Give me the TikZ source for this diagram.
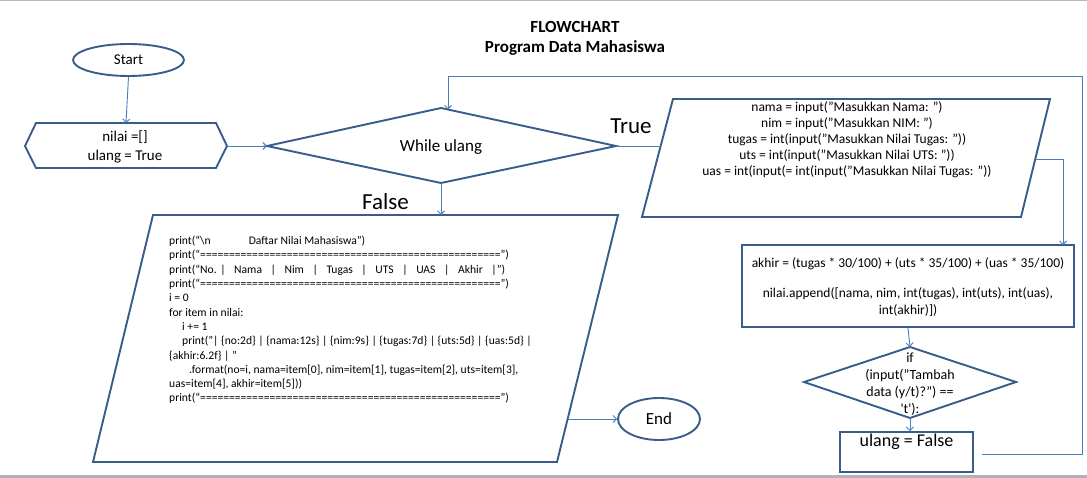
\documentclass[tikz,border=0pt]{standalone}
\usepackage{fontspec}
\setmainfont{Carlito}
\usetikzlibrary{shapes.geometric,arrows.meta}
\definecolor{shapeblue}{HTML}{385D8A}
\definecolor{connblue}{HTML}{4A7EBB}
\begin{document}
\begin{tikzpicture}[x=1pt,y=-1pt,
  outline/.style={draw=shapeblue,line width=1.9pt},
  conn/.style={draw=connblue,line width=0.9pt},
  arr/.style={conn,-{Straight Barb[length=3.5pt,width=7pt]}},
  txt/.style={inner sep=0pt,align=center,text=black},
  term/.style={ellipse,outline,inner sep=0pt},
  proc/.style={rectangle,outline,inner sep=0pt}]

\useasboundingbox (0,0) rectangle (1087,478);
\fill[white] (0,0) rectangle (1087,478);
\draw[gray!55,line width=1pt] (0,0.5) -- (1087,0.5);
\fill[gray!60] (0,475) rectangle (1087,478);

% title
\node[txt,font=\bfseries\fontsize{17}{20}\selectfont] (title) at (575,38) {FLOWCHART\\Program Data Mahasiswa};

% start
\node[term,minimum width=111pt,minimum height=32pt,font=\fontsize{15}{18}\selectfont] (start) at (128.5,60) {Start};

% init hexagon
\coordinate (hexL) at (25,146);
\coordinate (hexR) at (227,146);
\coordinate (hexT) at (126,123);
\draw[outline] (hexL) -- (36,123) -- (216,123) -- (hexR) -- (216,168) -- (36,168) -- cycle;
\node[txt,font=\fontsize{15}{19}\selectfont] (init) at (125,146.5) {nilai =[]\\ulang = True};

% while diamond
\coordinate (wL) at (267,146);
\coordinate (wT) at (441,108);
\coordinate (wR) at (616,146);
\coordinate (wB) at (441,183);
\coordinate (wLoop) at (448,109.5);
\draw[outline] (wL) -- (wT) -- (wR) -- (wB) -- cycle;
\node[txt,font=\fontsize{17}{20}\selectfont] (while) at (441,147) {While ulang};

% labels
\node[txt,font=\fontsize{23}{26}\selectfont] (truelbl) at (631,126) {True};
\node[txt,font=\fontsize{23}{26}\selectfont] (falselbl) at (385.5,202) {False};

% input parallelogram
\draw[outline] (673,99) -- (1050,99) -- (1021,217) -- (642,217) -- cycle;
\coordinate (inL) at (661,146);
\coordinate (inR) at (1035.3,159);
\node[txt,font=\fontsize{13.5}{16}\selectfont] (input) at (847,140) {nama = input("Masukkan Nama: ")\\
nim = input("Masukkan NIM: ")\\
tugas = int(input("Masukkan Nilai Tugas: "))\\
uts = int(input("Masukkan Nilai UTS: "))\\
uas = int(input(= int(input("Masukkan Nilai Tugas: "))};

% akhir process
\node[proc,minimum width=332pt,minimum height=82pt] (akhir) at (908,286) {};
\coordinate (akhirT) at (1063,245);
\node[txt,font=\fontsize{13.5}{17}\selectfont] (akhirtxt) at (908,287) {akhir = (tugas * 30/100) + (uts * 35/100) + (uas * 35/100)\\[13pt]
nilai.append([nama, nim, int(tugas), int(uts), int(uas),\\
int(akhir)])};

% if diamond
\coordinate (ifL) at (804,382);
\coordinate (ifT) at (910,347);
\coordinate (ifR) at (1016,382);
\coordinate (ifB) at (910,418);
\draw[outline] (ifL) -- (ifT) -- (ifR) -- (ifB) -- cycle;
\node[txt,font=\fontsize{14}{17}\selectfont] (iftxt) at (910,384) {if\\(input("Tambah\\data (y/t)?") ==\\\textquotesingle t\textquotesingle):};

% ulang = False box
\node[proc,minimum width=133pt,minimum height=40pt] (ulang) at (906.5,452) {};
\node[txt,font=\fontsize{18}{20}\selectfont] (ulangtxt) at (906.5,442) {ulang = False};

% output parallelogram
\draw[outline] (153,215) -- (618,215) -- (557,462) -- (93,462) -- cycle;
\coordinate (pTop) at (441,215);
\coordinate (outR) at (567.6,419);
\node[anchor=north west,inner sep=0pt,align=left,font=\fontsize{11.6}{14.3}\selectfont] (code) at (169,236) {%
print(“\textbackslash n\hspace*{38pt}Daftar Nilai Mahasiswa”)\\
print(“====================================================”)\\
\makebox[336pt][l]{print(“No. |\hfill Nama\hfill |\hfill Nim\hfill |\hfill Tugas\hfill |\hfill UTS\hfill |\hfill UAS\hfill |\hfill Akhir\hfill |”)}\\
print(“====================================================”)\\
i = 0\\
for item in nilai:\\
\hspace*{13pt}i += 1\\
\hspace*{13pt}print("| \{no:2d\} | \{nama:12s\} | \{nim:9s\} | \{tugas:7d\} | \{uts:5d\} | \{uas:5d\} |\\
\{akhir:6.2f\} | "\\
\hspace*{20pt}.format(no=i, nama=item[0], nim=item[1], tugas=item[2], uts=item[3],\\
uas=item[4], akhir=item[5]))\\
print(“====================================================”)};

% end
\node[term,minimum width=82pt,minimum height=42pt,font=\fontsize{17}{20}\selectfont] (end) at (659,419) {End};

% loop coordinates
\coordinate (loopBR) at (1082,454);
\coordinate (loopTR) at (1082,76);
\coordinate (loopTL) at (448,76);

% connectors
\draw[arr] (start.south) -- (hexT);
\draw[arr] (hexR) -- (wL);
\draw[arr] (wB) -- (pTop);
\draw[conn] (wR) -- (inL);
\draw[arr] (inR) -| (akhirT);
\draw[arr] (akhir.south) -- (ifT);
\draw[arr] (ifB) -- (ifB |- ulang.north);
\draw[arr] (outR) -- (end.west);
\draw[arr] ([xshift=8pt,yshift=-2pt]ulang.east) -- (loopBR) -- (loopTR) -- (loopTL) -- (wLoop);
\end{tikzpicture}
\end{document}
